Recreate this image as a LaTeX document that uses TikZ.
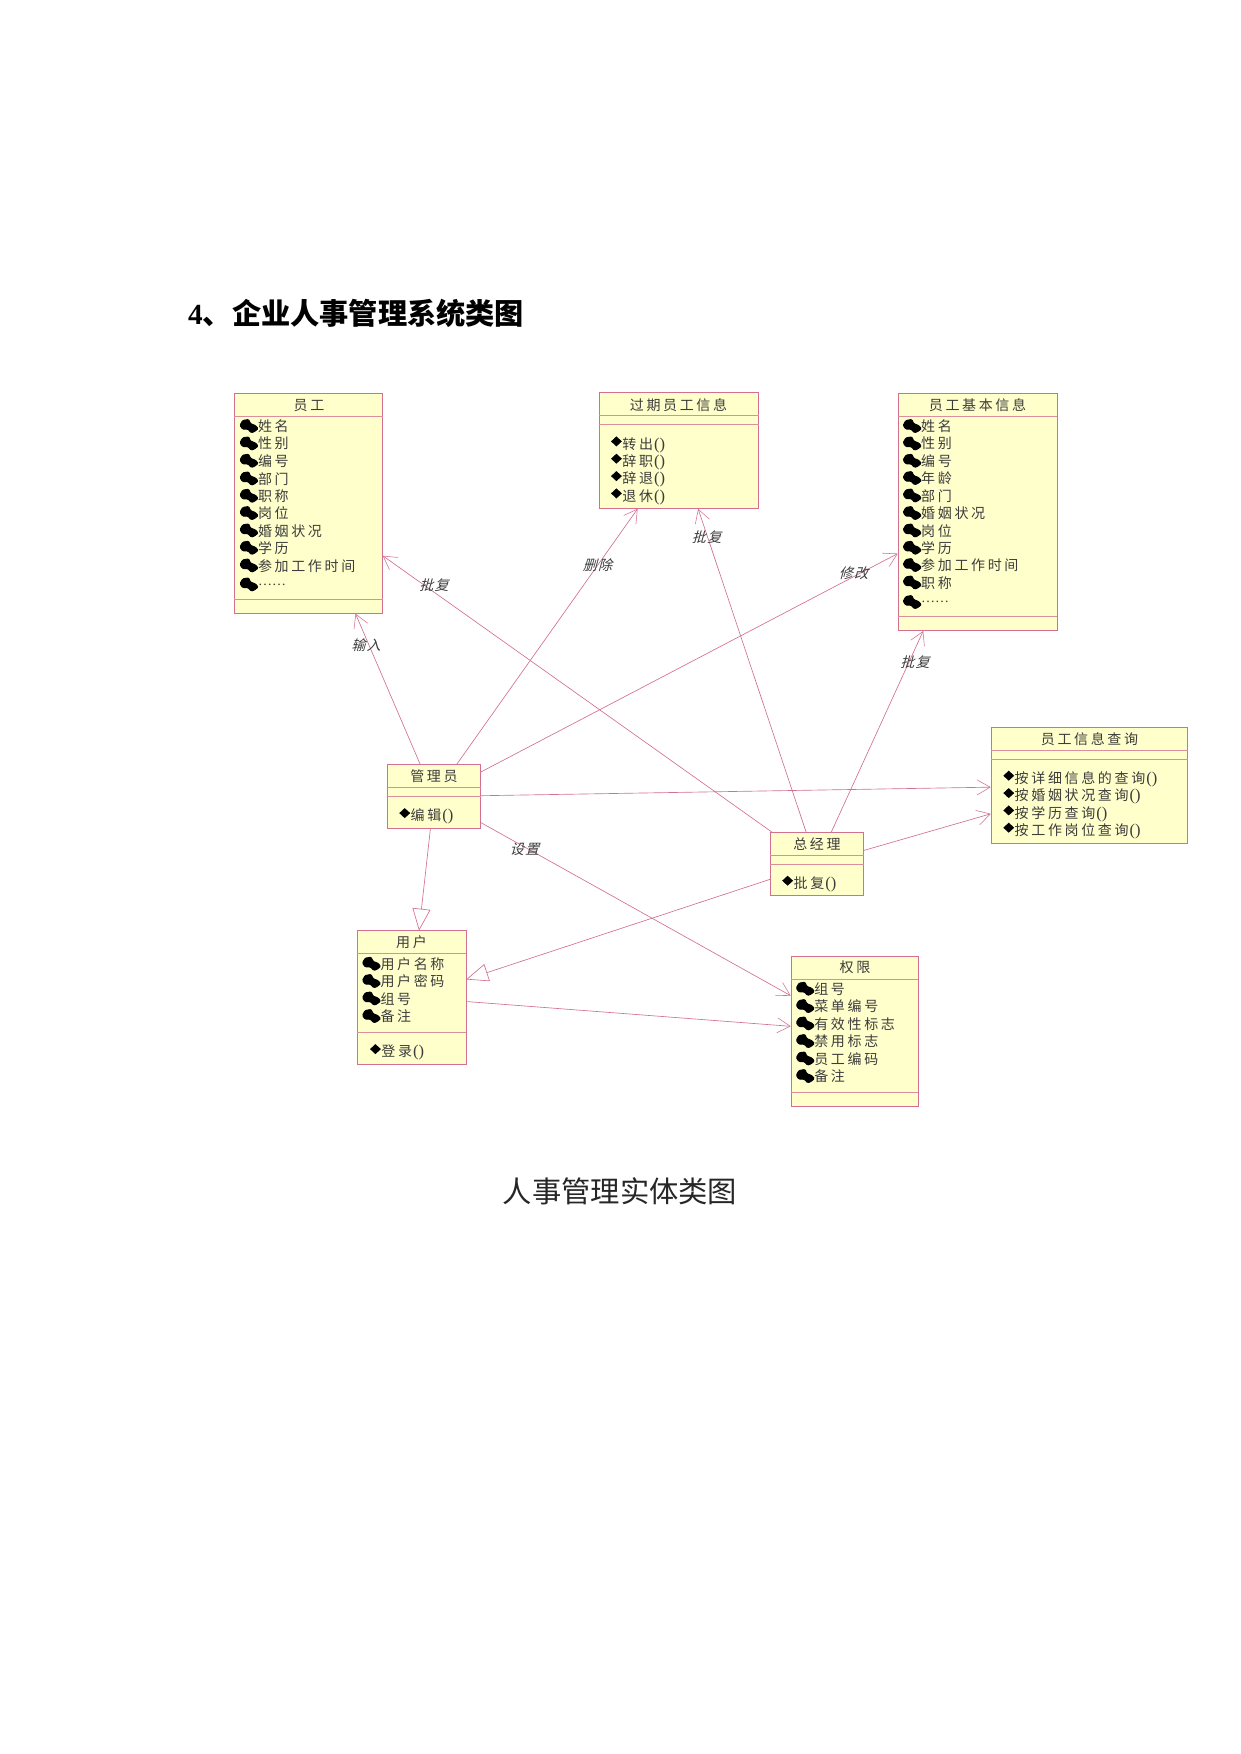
\documentclass[tikz,border=0pt]{standalone}
\usepackage{fontspec}
\usetikzlibrary{arrows.meta}
\setmainfont{Liberation Serif}
\newfontfamily\cjk[LetterSpace=19]{Noto Sans CJK SC}
\newfontfamily\cjkslant[LetterSpace=10,FakeSlant=0.28]{Noto Sans CJK SC}
\newfontfamily\cjkhead{Noto Sans CJK SC}
\definecolor{rose}{HTML}{D4708F}
\definecolor{septone}{HTML}{DB8E9C}
\definecolor{boxfill}{HTML}{FFFFCB}
\definecolor{ink}{HTML}{3C3C3C}
\newcommand{\classbox}[5]{% name, x0, y0, x1, y1
  \pgfmathsetmacro{\cbw}{#4-#2}\pgfmathsetmacro{\cbh}{#5-#3}
  \pgfmathsetmacro{\cbx}{(#4+#2)/2}\pgfmathsetmacro{\cby}{(#5+#3)/2}
  \node[umlbox,minimum width=\cbw pt,minimum height=\cbh pt] (#1) at (\cbx,\cby) {};}
\newcommand{\compline}[2]{\draw[compart] (#1.west |- 0,#2) -- (#1.east |- 0,#2);}
\newcommand{\attr}[4]{\node[rowtext] (#1) at (#2,#3) {\cjk #4}; \pic at (#1.west) {attricon};}
\newcommand{\oper}[4]{\node[rowtext] (#1) at (#2,#3+1.1) {\cjk #4\kern1pt\fontsize{16.5}{16.5}\selectfont\rmfamily()}; \pic at (#1.west) {opicon};}
\tikzset{
  x=1pt,y=-1pt,
  umlbox/.style={draw=rose,fill=boxfill,line width=1pt,inner sep=0pt,outer sep=0pt,rectangle},
  compart/.style={draw=septone,line width=0.9pt},
  rowtext/.style={anchor=west,inner sep=0pt,outer sep=0pt,font=\fontsize{14}{14}\selectfont,text=ink},
  headtext/.style={inner sep=0pt,font=\fontsize{14}{14}\selectfont\cjk,text=ink},
  linktext/.style={inner sep=0pt,font=\fontsize{14}{14}\selectfont\cjkslant,text=ink},
  link/.style={draw=rose,line width=0.65pt},
  dep/.style={link,shorten >=0.3pt,-{Straight Barb[length=13pt,width=15pt,line width=0.55pt]}},
  gen/.style={link,-{Triangle[open,length=22pt,width=18pt,fill=white,line width=0.65pt]}},
  attricon/.pic={\filldraw[black,line width=1pt,rounded corners=1pt] (-18,-1) -- (-15.3,-5.8) -- (-9.4,-6.8) -- (-7.5,-2.6) -- (-2.6,-0.8) -- (0.1,2.3) -- (-3.5,5.3) -- (-6.7,6.4) -- (-10,2.9) -- (-15.4,2.8) -- cycle;},
  opicon/.pic={\fill[black] (-11.4,-3.7) -- (-6,-8.7) -- (-0.5,-3.7) -- (-6,1.3) -- cycle;},
}
\begin{document}
\begin{tikzpicture}
\useasboundingbox (0,0) rectangle (1241,1754);
\fill[white] (0,0) rectangle (1241,1754);
\node[inner sep=0pt,anchor=west,font=\fontsize{29.2}{29.2}\selectfont\bfseries] (title) at (188,313) {4\cjkhead、企业人事管理系统类图};
\node[inner sep=0pt,font=\fontsize{29.3}{29.3}\selectfont\cjkhead,text=black!85] (caption) at (620,1191.5) {人事管理实体类图};
% boxes
\classbox{emp}{234}{393}{382.5}{613.5}
\classbox{exp}{599}{392.5}{758.5}{508.5}
\classbox{basic}{898}{393.3}{1057}{630.7}
\classbox{query}{991}{727.7}{1187.5}{843.3}
\classbox{admin}{387.3}{764.7}{480.7}{828.3}
\classbox{gm}{770}{832.3}{863.5}{895.7}
\classbox{user}{357}{930.7}{466.2}{1064}
\classbox{perm}{791}{956}{918.3}{1106.3}
% connectors
\draw[dep] (admin) -- (emp);
\draw[dep] (admin) -- (exp);
\draw[dep] (admin) -- (basic);
\draw[dep] (admin) -- (query);
\draw[dep] (admin) -- (perm);
\draw[gen] (admin) -- (user);
\draw[dep] (gm) -- (emp);
\draw[dep] (gm) -- (exp);
\draw[dep] (gm) -- (basic);
\draw[dep] (gm) -- (query);
\draw[gen] (gm) -- (user);
\draw[dep] (user) -- (perm);
% compartment lines
\compline{emp}{416.3}\compline{emp}{599}
\compline{exp}{415.3}\compline{exp}{424.7}
\compline{basic}{416.3}\compline{basic}{616.3}
\compline{query}{750.3}\compline{query}{759.3}
\compline{admin}{787.3}\compline{admin}{796.7}
\compline{gm}{855.3}\compline{gm}{864.3}
\compline{user}{953.3}\compline{user}{1032.7}
\compline{perm}{979}\compline{perm}{1092}
% headers
\node[headtext] (h1) at (309,405.5) {员工};
\node[headtext] (h2) at (678.5,404.8) {过期员工信息};
\node[headtext] (h3) at (977.5,405.3) {员工基本信息};
\node[headtext] (h4) at (1089.5,739.3) {员工信息查询};
\node[headtext] (h5) at (434,776.3) {管理员};
\node[headtext] (h6) at (817,844.4) {总经理};
\node[headtext] (h7) at (411.5,942.5) {用户};
\node[headtext] (h8) at (855,967.5) {权限};
% employee
\attr{e1}{258}{426.3}{姓名}
\attr{e2}{258}{443.7}{性别}
\attr{e3}{258}{461}{编号}
\attr{e4}{258}{478.7}{部门}
\attr{e5}{258}{496}{职称}
\attr{e6}{258}{513.3}{岗位}
\attr{e7}{258}{530.7}{婚姻状况}
\attr{e8}{258}{548}{学历}
\attr{e9}{258}{565.7}{参加工作时间}
\attr{e10}{258}{584.7}{\rmfamily……}
% expired
\oper{x1}{622.4}{444}{转出}
\oper{x2}{622.4}{461.3}{辞职}
\oper{x3}{622.4}{478.7}{辞退}
\oper{x4}{622.4}{496}{退休}
% basic
\attr{b1}{921.2}{426.3}{姓名}
\attr{b2}{921.2}{443.7}{性别}
\attr{b3}{921.2}{461}{编号}
\attr{b4}{921.2}{478.3}{年龄}
\attr{b5}{921.2}{495.7}{部门}
\attr{b6}{921.2}{513.3}{婚姻状况}
\attr{b7}{921.2}{530.7}{岗位}
\attr{b8}{921.2}{548}{学历}
\attr{b9}{921.2}{565.3}{参加工作时间}
\attr{b10}{921.2}{582.7}{职称}
\attr{b11}{921.2}{602.3}{\rmfamily……}
% query
\oper{q1}{1014.7}{778.3}{按详细信息的查询}
\oper{q2}{1014.7}{795.7}{按婚姻状况查询}
\oper{q3}{1014.7}{813}{按学历查询}
\oper{q4}{1014.7}{830.3}{按工作岗位查询}
% admin, gm
\oper{a1}{410.7}{815.7}{编辑}
\oper{g1}{793.6}{883.3}{批复}
% user
\attr{u1}{380.5}{964}{用户名称}
\attr{u2}{380.5}{981.3}{用户密码}
\attr{u3}{380.5}{998.7}{组号}
\attr{u4}{380.5}{1016.3}{备注}
\oper{u5}{381.4}{1051.7}{登录}
% permission
\attr{p1}{814.3}{989}{组号}
\attr{p2}{814.3}{1006.3}{菜单编号}
\attr{p3}{814.3}{1023.7}{有效性标志}
\attr{p4}{814.3}{1041.3}{禁用标志}
\attr{p5}{814.3}{1058.7}{员工编码}
\attr{p6}{814.3}{1076.3}{备注}
% link labels
\node[linktext] (l1) at (366,645.5) {输入};
\node[linktext] (l2) at (434,585) {批复};
\node[linktext] (l3) at (597.5,565.6) {删除};
\node[linktext] (l4) at (706.6,537.2) {批复};
\node[linktext] (l5) at (853.5,573.2) {修改};
\node[linktext] (l6) at (915,662.6) {批复};
\node[linktext] (l7) at (524.5,849.2) {设置};
\end{tikzpicture}
\end{document}
